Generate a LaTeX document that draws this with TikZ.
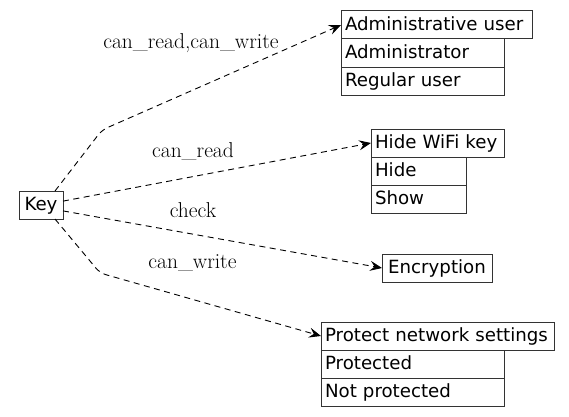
\documentclass[tikz,border=0pt]{standalone}
\usepackage{fontspec}
\newfontfamily\boxfont{DejaVu Sans}
\usetikzlibrary{arrows.meta,positioning}

\begin{document}
\begin{tikzpicture}[
  x=1pt, y=1pt,
  box/.style={draw=black!80, line width=1pt, outer sep=0pt, inner xsep=4pt, inner ysep=0pt,
              minimum height=28pt, text height=14pt, text depth=3.5pt, align=left,
              text width=#1, anchor=north west, font=\boxfont\fontsize{18.2}{21}\selectfont},
  cbox/.style={box=#1, align=center},
  lbl/.style={anchor=base, font=\fontsize{21.5}{25}\selectfont},
  arrow/.style={-{Stealth[length=12pt, width=10pt, inset=4.5pt]}, line width=0.9pt,
                dash pattern=on 6pt off 4.5pt}
]
\useasboundingbox (0,0) rectangle (569,416);

% source
\node[cbox=36] (key) at (19,225) {Key};

% targets
\node[box=183] (admin) at (341,405) {Administrative user};
\node[box=155] (adminA) at (admin.south west) {Administrator};
\node[box=155] (adminB) at (adminA.south west) {Regular user};

\node[box=125] (wifi) at (371,287) {Hide WiFi key};
\node[box=87] (wifiA) at (wifi.south west) {Hide};
\node[box=87] (wifiB) at (wifiA.south west) {Show};

\node[cbox=102] (enc) at (382,162) {Encryption};

\node[box=225] (prot) at (321,94) {Protect network settings};
\node[box=175] (protA) at (prot.south west) {Protected};
\node[box=175] (protB) at (protA.south west) {Not protected};

% bends
\coordinate (up) at (102,286);
\coordinate (down) at (100,143);

\draw[arrow, rounded corners=6pt] (key.45) -- (up) -- (admin.west);
\draw[arrow] (key.10) -- (wifi.west);
\draw[arrow] (key.-15) -- (enc.west);
\draw[arrow, rounded corners=6pt] (key.-45) -- (down) -- (prot.west);

\node[lbl] (l1) at (191,367) {can\_read,can\_write};
\node[lbl] (l2) at (193,259) {can\_read};
\node[lbl] (l3) at (193,199) {check};
\node[lbl] (l4) at (192.5,148) {can\_write};
\end{tikzpicture}
\end{document}
